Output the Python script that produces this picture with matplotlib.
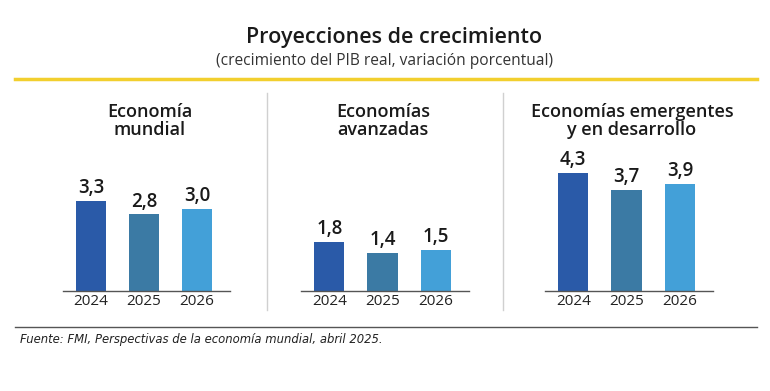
import matplotlib.pyplot as plt

# data
years = ['2024', '2025', '2026']
panel_titles = ['Economía\nmundial', 'Economías\navanzadas', 'Economías emergentes\ny en desarrollo']
mundial = [3.3, 2.8, 3.0]
avanzadas = [1.8, 1.4, 1.5]
emergentes = [4.3, 3.7, 3.9]
series = [mundial, avanzadas, emergentes]
bar_colors = ['#2a5aa8', '#3b7aa4', '#43a0d8']

W, H = 770, 391
plt.rcParams['font.family'] = ['Open Sans', 'DejaVu Sans']
fig = plt.figure(figsize=(W / 100, H / 100), dpi=100)

def px(x, y):
    # pixel (from top-left) -> figure fraction
    return x / W, 1 - y / H

# header
fig.text(*px(394, 38), 'Proyecciones de crecimiento', ha='center', va='center',
         fontsize=15.5, fontweight='semibold', color='#1a1a1a')
fig.text(*px(384, 61), '(crecimiento del PIB real, variación porcentual)', ha='center', va='center',
         fontsize=11.2, color='#333333')
fig.add_artist(plt.Line2D([15 / W, 757 / W], [1 - 79 / H] * 2, color='#f2cf2e', lw=2.5))

# separators
for xs in (267, 503):
    fig.add_artist(plt.Line2D([xs / W] * 2, [1 - 93 / H, 1 - 310 / H], color='#d0d0d0', lw=1))

# footer
fig.add_artist(plt.Line2D([15 / W, 757 / W], [1 - 327 / H] * 2, color='#555555', lw=1))
fig.text(*px(20, 339), 'Fuente: FMI, Perspectivas de la economía mundial, abril 2025.',
         ha='left', va='center', fontsize=8.4, style='italic', color='#222222',
         family='DejaVu Sans')

# panels: axis line left/right pixels, title center x
axis_px = [(63, 230), (301, 469), (545, 713)]
title_x = [150, 383, 632]
base_y = 291
unit_px = 27.4
ymax = 5.0

for i, vals in enumerate(series):
    x0, x1 = axis_px[i]
    left, bottom = px(x0, base_y)
    ax = fig.add_axes([left, bottom, (x1 - x0) / W, ymax * unit_px / H])
    xs = range(len(vals))
    ax.bar(xs, vals, width=0.57, color=bar_colors)
    ax.set_xlim(-0.53, 2.62)
    ax.set_ylim(0, ymax)
    for x, v in zip(xs, vals):
        ax.text(x, v + 0.1, f'{v:.1f}'.replace('.', ','), ha='center', va='bottom',
                fontsize=13.5, fontweight='semibold', color='#1a1a1a')
    for s in ('top', 'right', 'left'):
        ax.spines[s].set_visible(False)
    ax.spines['bottom'].set_color('#555555')
    ax.spines['bottom'].set_linewidth(1)
    ax.set_yticks([])
    ax.set_xticks(list(xs))
    ax.set_xticklabels(years, fontsize=11, color='#222222')
    ax.tick_params(axis='x', length=0, pad=2)
    ax.patch.set_alpha(0)
    fig.text(*px(title_x[i], 121), panel_titles[i], ha='center', va='center',
             fontsize=13, fontweight='semibold', color='#1a1a1a', linespacing=1.0)

fig.savefig('out.png', dpi=100, facecolor='white')
